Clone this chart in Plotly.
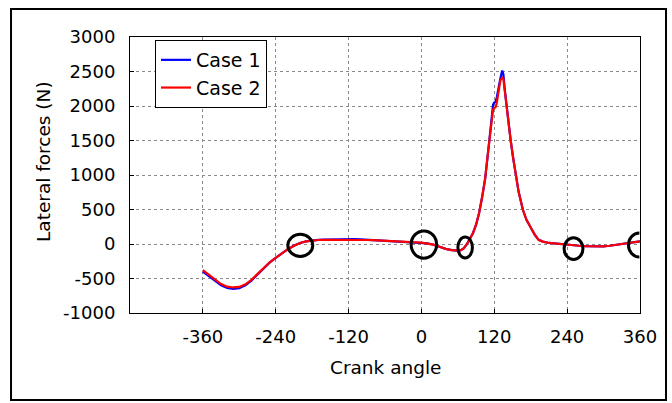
import plotly.graph_objects as go

# Crank angle (deg) at which lateral force is sampled
crank_angle = [
    -360, -350, -340, -330, -320, -310, -300, -290, -280, -270, -260, -250,
    -240, -230, -220, -210, -200, -190, -180, -170, -160, -150, -140, -130,
    -120, -110, -100, -90, -80, -70, -60, -50, -40, -30, -20, -10, 0, 10,
    20, 30, 40, 50, 60, 65, 70, 75, 80, 85, 90, 95, 100, 105, 110, 115, 118,
    120, 122, 124, 127, 130, 133, 135, 137, 140, 143, 147, 151, 155, 160,
    167, 173, 180, 187, 193, 200, 210, 220, 230, 240, 250, 260, 270, 280,
    290, 300, 310, 320, 330, 340, 350, 360,
]

# Lateral force (N), case 1
case1_force = [
    -400, -470, -540, -600, -635, -650, -640, -600, -530, -440, -350, -270,
    -200, -135, -75, -25, 15, 38, 52, 60, 65, 68, 70, 72,
    72, 70, 67, 62, 57, 52, 48, 43, 38, 33, 28, 24, 20, 8,
    -10, -40, -70, -88, -97, -90, -60, 0, 80, 160, 280, 450, 680, 950, 1350, 1800, 2020,
    2050, 2060, 2120, 2280, 2400, 2515, 2460, 2260, 2000, 1780, 1500, 1250, 1000, 760,
    500, 350, 240, 130, 60, 35, 15, 5, -3, -10, -18, -25, -30, -33,
    -35, -33, -25, -12, 0, 12, 25, 38,
]

# Lateral force (N), case 2
case2_force = [
    -380, -450, -520, -580, -618, -630, -622, -585, -520, -432, -345, -265,
    -200, -135, -75, -25, 15, 38, 52, 58, 60, 60, 62, 64,
    66, 64, 62, 58, 55, 52, 48, 43, 38, 33, 28, 24, 20, 8,
    -10, -40, -70, -88, -97, -90, -60, 0, 80, 160, 280, 450, 680, 950, 1350, 1780, 1950,
    1970, 1980, 2040, 2240, 2370, 2410, 2390, 2240, 2000, 1780, 1500, 1250, 1000, 760,
    500, 350, 240, 130, 60, 35, 15, 5, -3, -10, -18, -25, -30, -33,
    -35, -33, -25, -12, 0, 12, 25, 38,
]

x_ticks = [-360, -240, -120, 0, 120, 240, 360]
x_tick_labels = ["-360", "-240", "-120", "0", "120", "240", "360"]
y_ticks = [-1000, -500, 0, 500, 1000, 1500, 2000, 2500, 3000]
y_tick_labels = ["-1000", "-500", "0", "500", "1000", "1500", "2000", "2500", "3000"]

# Circled regions of interest: (angle_min, angle_max, force_min, force_max)
highlight_regions = [
    (-220, -179, -180, 140),
    (-17, 25, -205, 190),
    (60, 84, -203, 100),
    (235, 266, -225, 90),
    (341, 377, -190, 160),
]

X_RANGE = [-480, 360]
Y_RANGE = [-1000, 3000]
FONT = "DejaVu Sans"
K = 0.5523  # cubic Bezier constant for quarter ellipse arcs


def ellipse_path(x0, x1, y0, y1, xmax):
    """Ellipse outline as Bezier path; only the part left of xmax is kept."""
    cx, cy = (x0 + x1) / 2, (y0 + y1) / 2
    rx, ry = (x1 - x0) / 2, (y1 - y0) / 2
    if x1 <= xmax:
        return None
    # left half, from top to bottom
    return (f"M {cx},{cy + ry} "
            f"C {cx - K * rx},{cy + ry} {cx - rx},{cy + K * ry} {cx - rx},{cy} "
            f"C {cx - rx},{cy - K * ry} {cx - K * rx},{cy - ry} {cx},{cy - ry}")


fig = go.Figure()
fig.add_trace(go.Scatter(x=crank_angle, y=case1_force, mode="lines", name="Case 1",
                         line=dict(color="#0000FF", width=2.2)))
fig.add_trace(go.Scatter(x=crank_angle, y=case2_force, mode="lines", name="Case 2",
                         line=dict(color="#FF0000", width=2.2)))

for x0, x1, y0, y1 in highlight_regions:
    path = ellipse_path(x0, x1, y0, y1, X_RANGE[1])
    if path is None:
        fig.add_shape(type="circle", xref="x", yref="y", x0=x0, x1=x1, y0=y0, y1=y1,
                      line=dict(color="black", width=3), layer="above")
    else:
        fig.add_shape(type="path", xref="x", yref="y", path=path,
                      line=dict(color="black", width=3), layer="above")

# outer frame around the whole figure
fig.add_shape(type="rect", xref="paper", yref="paper",
              x0=-0.2333, x1=1.051, y0=-0.3152, y1=1.1014,
              line=dict(color="black", width=2))

axis_common = dict(
    showline=True, linecolor="black", linewidth=1, mirror=True,
    ticks="inside", ticklen=4, tickcolor="black",
    showgrid=True, gridcolor="#8a8a8a", griddash="dot", gridwidth=1,
    zeroline=False,
    tickfont=dict(family=FONT, size=18, color="black"),
)

fig.update_xaxes(range=X_RANGE, tickvals=x_ticks, ticktext=x_tick_labels,
                 ticklabelstandoff=7, **axis_common)
fig.update_yaxes(range=Y_RANGE, tickvals=y_ticks, ticktext=y_tick_labels,
                 ticklabelstandoff=10, **axis_common)

fig.add_annotation(text="Crank angle", xref="paper", yref="paper",
                   x=(386 - 130) / 510, y=(313 - 367) / 276,
                   xanchor="center", yanchor="middle",
                   showarrow=False, font=dict(family=FONT, size=18.5, color="black"))
fig.add_annotation(text="Lateral forces (N)", xref="paper", yref="paper",
                   x=(43 - 130) / 510, y=(313 - 162) / 276, textangle=-90,
                   xanchor="center", yanchor="middle",
                   showarrow=False, font=dict(family=FONT, size=18.5, color="black"))

fig.update_layout(
    width=672, height=403,
    margin=dict(l=130, r=32, t=37, b=90),
    paper_bgcolor="white", plot_bgcolor="white",
    showlegend=True,
    legend=dict(x=(155 - 130) / 510, y=(313 - 40) / 276, xanchor="left", yanchor="top",
                bordercolor="black", borderwidth=1, bgcolor="white",
                font=dict(family=FONT, size=19, color="black"),
                itemwidth=30, tracegroupgap=0),
)

fig.write_html("out.html")
